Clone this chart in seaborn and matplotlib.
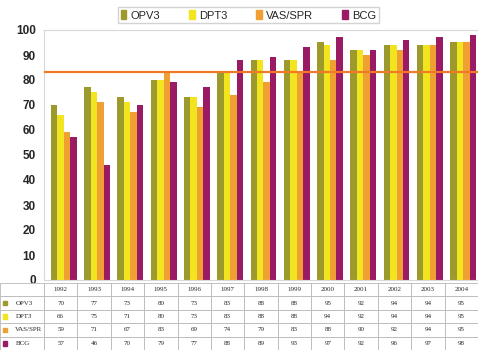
import pandas as pd
import matplotlib
matplotlib.use("Agg")
import matplotlib.pyplot as plt
import seaborn as sns
from matplotlib.patches import Rectangle

# --- DATA ---
years = ["1992", "1993", "1994", "1995", "1996", "1997", "1998",
         "1999", "2000", "2001", "2002", "2003", "2004"]
series_names = ["OPV3", "DPT3", "VAS/SPR", "BCG"]
opv3 = [70, 77, 73, 80, 73, 83, 88, 88, 95, 92, 94, 94, 95]
dpt3 = [66, 75, 71, 80, 73, 83, 88, 88, 94, 92, 94, 94, 95]
vas_spr = [59, 71, 67, 83, 69, 74, 79, 83, 88, 90, 92, 94, 95]
bcg = [57, 46, 70, 79, 77, 88, 89, 93, 97, 92, 96, 97, 98]
target = 83

colors = ["#9c9a2c", "#f2e41e", "#f0a032", "#9a1a64"]

rows = []
for name, vals in zip(series_names, [opv3, dpt3, vas_spr, bcg]):
    for y, v in zip(years, vals):
        rows.append({"year": y, "series": name, "value": v})
df = pd.DataFrame(rows)

sns.set_style("white")
plt.rcParams["font.family"] = ["Liberation Sans Narrow", "Liberation Sans", "DejaVu Sans"]

fig = plt.figure(figsize=(4.78, 3.5), dpi=100)
ax = fig.add_axes([44 / 478, 70 / 350, 434 / 478, 250 / 350])

sns.barplot(data=df, x="year", y="value", hue="series", palette=colors,
            width=0.78, saturation=1, ax=ax, legend=False, edgecolor="none")

ax.axhline(target, color="#f07a28", linewidth=1.6, zorder=5)

ax.set_ylim(0, 100)
ax.set_xlim(-0.6, 12.45)
ax.set_yticks(range(0, 101, 10))
ax.tick_params(axis="y", labelsize=8.5, pad=6, length=0)
for lbl in ax.get_yticklabels():
    lbl.set_fontweight("bold")
ax.set_xticks([])
ax.set_xlabel("")
ax.set_ylabel("")
for s in ax.spines.values():
    s.set_color("#d8d8d8")
    s.set_linewidth(0.8)
ax.spines["right"].set_visible(False)

# --- LEGEND ---
handles = [Rectangle((0, 0), 1, 1, color=c) for c in colors]
fig.legend(handles, series_names, loc="upper center", bbox_to_anchor=(0.52, 0.995),
           ncol=4, fontsize=8, frameon=True, fancybox=False, edgecolor="#c8c8c8",
           handlelength=0.5, handleheight=0.9, columnspacing=2.6, handletextpad=0.4,
           borderpad=0.25)

# --- DATA TABLE ---
tab_ax = fig.add_axes([0, 0, 1, 67 / 350])
tab_ax.axis("off")
cell_text = [[""] + years]
for name, vals in zip(series_names, [opv3, dpt3, vas_spr, bcg]):
    cell_text.append([name] + [str(v) for v in vals])
col_w = [44 / 478] + [434 / 478 / 13] * 13
tbl = tab_ax.table(cellText=cell_text, colWidths=col_w, cellLoc="center",
                   bbox=[0, 0, 1, 1])
tbl.auto_set_font_size(False)
for (r, c), cell in tbl.get_celld().items():
    cell.set_edgecolor("#b8b8b8")
    cell.set_linewidth(0.6)
    cell.get_text().set_fontsize(5)
    cell.get_text().set_family(["Liberation Serif", "DejaVu Serif"])
    if c == 0 and r > 0:
        cell.get_text().set_ha("left")
        cell.PAD = 0.35
        tab_ax.add_patch(Rectangle((3 / 478, 1 - (r + 0.5) / 5 - 0.035), 4 / 478, 0.07,
                                   color=colors[r - 1], transform=tab_ax.transAxes,
                                   zorder=5))

fig.savefig("out.png", dpi=100)
